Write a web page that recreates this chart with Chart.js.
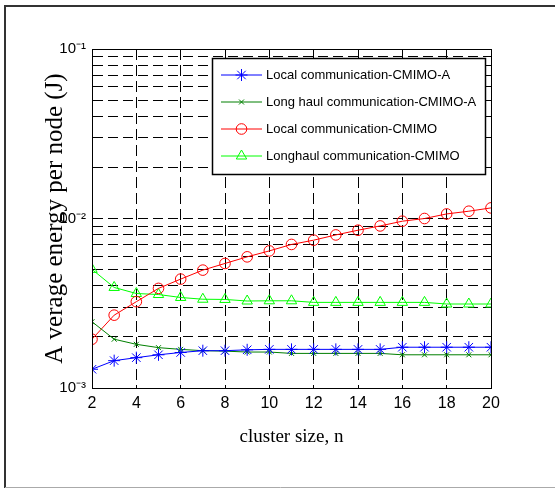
<!DOCTYPE html>
<html>
<head>
<meta charset="utf-8">
<script src="https://cdn.jsdelivr.net/npm/chart.js@4.4.0/dist/chart.umd.min.js"></script>
<style>
  html, body { margin: 0; padding: 0; background: #fff; overflow: hidden; }
  canvas { display: block; }
</style>
</head>
<body>
<canvas id="energyChart" width="555" height="488"></canvas>
<script>
// cluster size n on the x axis
const clusterSize = [2, 3, 4, 5, 6, 7, 8, 9, 10, 11, 12, 13, 14, 15, 16, 17, 18, 19, 20];

// average energy per node (J)
const localCmimoA = [0.00129, 0.00145, 0.00151, 0.00157, 0.00162, 0.00166, 0.00166, 0.00168, 0.00169, 0.00169,
    0.00169, 0.00169, 0.00169, 0.00169, 0.00174, 0.00174, 0.00174, 0.00174, 0.00174];
const longHaulCmimoA = [0.00246, 0.00194, 0.00181, 0.00173, 0.00169, 0.00166, 0.00165, 0.00163, 0.00163, 0.00160,
    0.00160, 0.00160, 0.00160, 0.00160, 0.00157, 0.00157, 0.00157, 0.00157, 0.00157];
const localCmimo = [0.00194, 0.00269, 0.00323, 0.00387, 0.00439, 0.00496, 0.00543, 0.00594, 0.00644, 0.00703,
    0.00745, 0.00800, 0.00853, 0.00904, 0.00964, 0.01000, 0.01064, 0.01104, 0.01155];
const longhaulCmimo = [0.00501, 0.00392, 0.00361, 0.00356, 0.00342, 0.00334, 0.00333, 0.00326, 0.00327, 0.00327,
    0.00320, 0.00320, 0.00320, 0.00320, 0.00320, 0.00320, 0.00313, 0.00313, 0.00313];

const seriesLabels = [
    'Local communication-CMIMO-A',
    'Long haul communication-CMIMO-A',
    'Local communication-CMIMO',
    'Longhaul communication-CMIMO'
];

// axis ticks
const xTicks = [2, 4, 6, 8, 10, 12, 14, 16, 18, 20];
const yGridValues = [0.001, 0.002, 0.003, 0.004, 0.005, 0.006, 0.007, 0.008, 0.009,
    0.01, 0.02, 0.03, 0.04, 0.05, 0.06, 0.07, 0.08, 0.09, 0.1];
const yDecadeValues = [0.001, 0.01, 0.1];
const yDecadeLabels = ['10\u207B\u00B3', '10\u207B\u00B2', '10\u207B\u00B9'];

function toPoints(values) {
    return clusterSize.map((n, i) => ({ x: n, y: values[i] }));
}

function makeDataset(label, values, color, style, radius) {
    return {
        label: label,
        data: toPoints(values),
        borderColor: color,
        backgroundColor: color,
        borderWidth: 1,
        pointStyle: style,
        pointRadius: radius,
        pointBorderColor: color,
        pointBackgroundColor: 'rgba(0,0,0,0)',
        pointBorderWidth: 1,
        tension: 0
    };
}

// white page with the grey frame seen round the figure
const pageFrame = {
    id: 'pageFrame',
    beforeDraw(chart) {
        const ctx = chart.ctx;
        ctx.save();
        ctx.fillStyle = '#fff';
        ctx.fillRect(0, 0, chart.width, chart.height);
        ctx.strokeStyle = '#333';
        ctx.lineWidth = 2;
        ctx.beginPath();
        ctx.moveTo(5, 488);
        ctx.lineTo(5, 6);
        ctx.lineTo(560, 6);
        ctx.stroke();
        ctx.strokeStyle = '#aaa';
        ctx.lineWidth = 1;
        ctx.beginPath();
        ctx.moveTo(5, 487.5);
        ctx.lineTo(560, 487.5);
        ctx.stroke();
        ctx.restore();
    }
};

// matlab style box round the axes plus the legend inside it
const boxLegend = {
    id: 'boxLegend',
    afterDraw(chart) {
        const ctx = chart.ctx;
        const area = chart.chartArea;
        ctx.save();
        ctx.setLineDash([]);
        ctx.strokeStyle = '#000';
        ctx.lineWidth = 1;
        ctx.strokeRect(Math.round(area.left) + 0.5, Math.round(area.top) + 0.5,
            Math.round(area.right - area.left), Math.round(area.bottom - area.top));

        ctx.fillStyle = '#fff';
        ctx.fillRect(212, 58, 273, 116);
        ctx.lineWidth = 1.5;
        ctx.strokeRect(212.5, 58.5, 273, 116);

        ctx.font = '13px "Liberation Sans", Arial, sans-serif';
        ctx.textBaseline = 'middle';
        chart.data.datasets.forEach((ds, i) => {
            const y = 75 + i * 27;
            ctx.strokeStyle = ds.borderColor;
            ctx.lineWidth = 1;
            ctx.beginPath();
            ctx.moveTo(221, y);
            ctx.lineTo(262, y);
            ctx.stroke();
            ctx.fillStyle = 'rgba(0,0,0,0)';
            Chart.helpers.drawPoint(ctx, {
                pointStyle: ds.pointStyle,
                radius: ds.pointRadius,
                rotation: 0,
                borderWidth: 1
            }, 241.5, y);
            ctx.fillStyle = '#000';
            ctx.fillText(ds.label, 266, y);
        });
        ctx.restore();
    }
};

const ctx = document.getElementById('energyChart').getContext('2d');

new Chart(ctx, {
    type: 'line',
    data: {
        datasets: [
            makeDataset(seriesLabels[0], localCmimoA, '#0000ff', 'star', 6),
            makeDataset(seriesLabels[1], longHaulCmimoA, '#007f00', 'crossRot', 3.5),
            makeDataset(seriesLabels[2], localCmimo, '#ff0000', 'circle', 5.3),
            makeDataset(seriesLabels[3], longhaulCmimo, '#00ff00', 'triangle', 6)
        ]
    },
    options: {
        responsive: false,
        animation: false,
        devicePixelRatio: 1,
        layout: {
            padding: { top: 49, right: 64, left: 0, bottom: 0 }
        },
        plugins: {
            legend: { display: false },
            tooltip: { enabled: false }
        },
        scales: {
            x: {
                type: 'linear',
                min: 2,
                max: 20,
                afterBuildTicks: scale => {
                    scale.ticks = xTicks.map(v => ({ value: v }));
                },
                afterFit: scale => {
                    scale.height = 100;
                },
                ticks: {
                    autoSkip: false,
                    maxRotation: 0,
                    padding: 6,
                    color: '#000',
                    font: { family: '"Liberation Sans", Arial, sans-serif', size: 16 }
                },
                grid: { color: '#000', lineWidth: 1, drawTicks: false },
                border: { display: true, color: '#000', width: 1, dash: [11, 5] },
                title: {
                    display: true,
                    text: 'cluster size, n',
                    color: '#000',
                    font: { family: '"Liberation Serif", "Times New Roman", serif', size: 19 },
                    padding: { top: 0, bottom: 40 }
                }
            },
            y: {
                type: 'logarithmic',
                min: 0.001,
                max: 0.1,
                afterBuildTicks: scale => {
                    scale.ticks = yGridValues.map(v => ({ value: v }));
                },
                afterFit: scale => {
                    scale.width = 92;
                },
                ticks: {
                    autoSkip: false,
                    padding: 6,
                    color: '#000',
                    font: { family: '"Liberation Sans", Arial, sans-serif', size: 15 },
                    callback: value => {
                        const k = yDecadeValues.findIndex(d => Math.abs(d - value) < d * 1e-6);
                        return k >= 0 ? yDecadeLabels[k] : '';
                    }
                },
                grid: { color: '#000', lineWidth: 1, drawTicks: false },
                border: { display: true, color: '#000', width: 1, dash: [10, 5] },
                title: {
                    display: true,
                    text: 'A verage energy per node (J)',
                    color: '#000',
                    font: { family: '"Liberation Serif", "Times New Roman", serif', size: 25 },
                    padding: { top: 40, bottom: 0 }
                }
            }
        }
    },
    plugins: [pageFrame, boxLegend]
});
</script>
</body>
</html>
